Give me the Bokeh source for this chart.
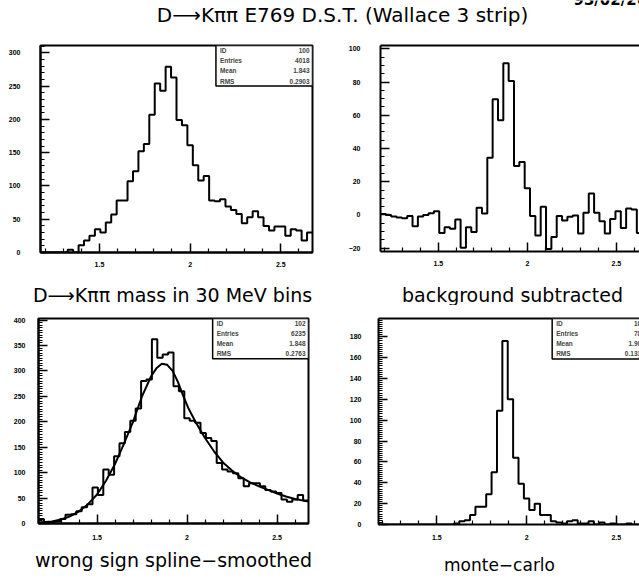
import numpy as np
from bokeh.plotting import figure
from bokeh.layouts import column, row
from bokeh.models import FixedTicker, LinearAxis, Label, BoxAnnotation, Range1d
from bokeh.embed import file_html
from bokeh.resources import INLINE

# K pi pi invariant mass: 50 bins of 30 MeV (GeV)
M_LO = 1.175
BIN_W = 0.03
N_BINS = 50

# D -> K pi pi candidates (ID 100)
counts_kpipi = [0, 0, 0, 0, 0, 4, 0, 11, 18, 25,
                35, 30, 45, 57, 78, 78, 107, 122, 152, 163,
                207, 254, 243, 279, 263, 199, 191, 161, 131, 108,
                115, 78, 77, 80, 69, 64, 58, 44, 53, 62,
                53, 40, 33, 39, 39, 25, 35, 33, 18, 30]

# signal after subtracting the smoothed wrong-sign shape
counts_subtracted = [0.5, 0, -1, -1.5, -2, -0.7, -6.8, -1, 0, 1,
                     2.3, -10.8, -7.4, -8.3, -2.8, -19.8, -7.4, -10.3, 4.3, 0.9,
                     34.4, 69.6, 57, 91.3, 80.7, 29.4, 31.8, 16, -0.7, -12.4,
                     4.9, -20.5, -13.2, -0.7, -3.4, -1.1, -0.3, -11.2, 1.3, 12.9,
                     1.3, -3.8, -11.2, -2.4, 2.3, -7.8, 3.9, 3.3, -10.8, 0]

# wrong-sign combinations (ID 102)
counts_wrong_sign = [9, 3, 3, 4, 9, 17, 18, 24, 32, 38,
                     71, 56, 106, 96, 132, 158, 180, 202, 226, 280,
                     283, 362, 326, 332, 336, 270, 260, 207, 202, 198,
                     178, 168, 162, 119, 106, 102, 99, 89, 73, 79,
                     79, 73, 66, 63, 60, 47, 43, 47, 56, 45]

# spline through the wrong-sign histogram
spline_mass = [1.175, 1.25, 1.30, 1.35, 1.40, 1.45, 1.50, 1.55, 1.60, 1.65,
               1.70, 1.75, 1.80, 1.83, 1.86, 1.89, 1.92, 1.95, 1.98, 2.01,
               2.05, 2.10, 2.15, 2.20, 2.25, 2.30, 2.35, 2.40, 2.45, 2.50,
               2.55, 2.60, 2.675]
spline_counts = [2, 4, 8, 14, 24, 38, 57, 84, 117, 157,
                 200, 250, 289, 305, 314, 312, 300, 278, 250, 225,
                 198, 168, 142, 120, 104, 91, 81, 73, 66, 59,
                 53, 48, 43]

# Monte-Carlo signal (ID 101)
counts_mc = [0, 0, 0, 0, 0, 0, 0, 0, 0, 0,
             0, 0, 0, 0, 1, 3, 4, 9, 17, 17,
             29, 50, 109, 176, 120, 64, 39, 25, 14, 20,
             9, 9, 3, 2, 1, 3, 4, 1, 1, 3,
             0, 2, 0, 1, 0, 0, 1, 0, 0, 0]

stat_names = ["ID", "Entries", "Mean", "RMS"]
stats_kpipi = ["100", "4018", "1.843", "0.2903"]
stats_wrong_sign = ["102", "6235", "1.848", "0.2763"]
stats_mc = ["101", "785", "1.901", "0.1330"]

x_major = [1.5, 2.0, 2.5]
x_major_labels = {1.5: "1.5", 2.0: "2", 2.5: "2.5"}
x_minor = [1.2, 1.3, 1.4, 1.6, 1.7, 1.8, 1.9, 2.1, 2.2, 2.3, 2.4, 2.6]

TXT_FONT = "DejaVu Sans"
TXT_SIZE = "19px"
TICK_FONT = "Liberation Sans"
X_FULL = M_LO + N_BINS * BIN_W


def hist_panel(counts, y_lo, y_hi, x_hi, y_major, y_step, frame_w, frame_h,
               borders, y_standoff, x_standoff, closed):
    bl, br, bt, bb = borders
    p = figure(title=None, x_range=Range1d(M_LO, x_hi), y_range=Range1d(y_lo, y_hi),
               frame_width=frame_w, frame_height=frame_h,
               min_border_left=bl, min_border_right=br,
               min_border_top=bt, min_border_bottom=bb,
               output_backend="svg", toolbar_location=None)
    p.grid.visible = False
    p.background_fill_color = "white"
    p.border_fill_color = "white"

    xb = p.xaxis[0]
    yl = p.yaxis[0]
    y_minor = list(np.arange(y_lo - y_lo % y_step, y_hi, y_step))
    xb.ticker = FixedTicker(ticks=x_major, minor_ticks=x_minor)
    xb.major_label_overrides = x_major_labels
    yl.ticker = FixedTicker(ticks=y_major, minor_ticks=y_minor)
    for ax in (xb, yl):
        ax.axis_line_width = 2
        ax.major_tick_in = 9
        ax.major_tick_out = 0
        ax.minor_tick_in = 4
        ax.minor_tick_out = 0
        ax.major_tick_line_width = 1.5
        ax.minor_tick_line_width = 1.2
        ax.major_label_text_font = TICK_FONT
        ax.major_label_text_font_size = "7px"
        ax.major_label_text_font_style = "bold"
        ax.major_label_text_color = "black"
    yl.major_label_standoff = y_standoff
    xb.major_label_standoff = x_standoff

    if closed:
        p.outline_line_color = "black"
        p.outline_line_width = 2
        p.outline_line_alpha = 1
    else:
        # frame continues past the page edge: only the top edge is drawn
        p.outline_line_color = None
        top = LinearAxis(ticker=FixedTicker(ticks=[], minor_ticks=[]), axis_line_width=2,
                         major_tick_line_color=None, minor_tick_line_color=None,
                         major_label_text_font_size="1px", major_label_text_alpha=0,
                         major_label_standoff=0)
        p.add_layout(top, "above")

    edges = M_LO + BIN_W * np.arange(N_BINS + 1)
    p.step(edges, list(counts) + [counts[-1]], mode="after",
           line_color="black", line_width=2)
    return p


def stats_box(p, values, y_lo, y_hi, px_per_unit):
    left = M_LO + 0.645 * (X_FULL - M_LO)
    bottom = y_hi - 0.196 * (y_hi - y_lo)
    p.add_layout(BoxAnnotation(left=left, right=X_FULL, bottom=bottom, top=y_hi,
                               fill_color="white", fill_alpha=1,
                               line_color="black", line_width=1.5, line_alpha=1))
    h = y_hi - bottom
    for i, (name, val) in enumerate(zip(stat_names, values)):
        y = y_hi - h * (i + 0.5) / 4
        p.add_layout(Label(x=left + 4 / px_per_unit, y=y, text=name,
                           text_align="left", text_baseline="middle",
                           text_font=TICK_FONT, text_font_size="6.5px",
                           text_font_style="bold"))
        p.add_layout(Label(x=X_FULL - 3 / px_per_unit, y=y, text=val,
                           text_align="right", text_baseline="middle",
                           text_font=TICK_FONT, text_font_size="6.5px",
                           text_font_style="bold"))


def text_strip(height, items):
    # a blank strip holding captions; y counts down from the strip top
    s = figure(title=None, width=639, height=height, x_range=Range1d(0, 639),
               y_range=Range1d(height, 0), output_backend="svg",
               toolbar_location=None, min_border=0,
               x_axis_location=None, y_axis_location=None)
    s.outline_line_color = None
    s.grid.visible = False
    for text, x, y, align, size, style in items:
        s.add_layout(Label(x=x, y=y, text=text, text_align=align,
                           text_baseline="alphabetic", text_font=TXT_FONT,
                           text_font_size=size, text_font_style=style,
                           text_color="black"))
    return s


head = text_strip(30, [
    ("D\u27f6K\u03c0\u03c0 E769 D.S.T. (Wallace 3 strip)", 342, 14, "center", "20px", "normal"),
    ("93/02/26", 573, -1, "left", "15px", "bold"),
])

# top left: mass spectrum
p1 = hist_panel(counts_kpipi, 0, 311, X_FULL, [0, 50, 100, 150, 200, 250, 300], 10,
                272, 207, (40, 8, 12, 23), 20, 9, True)
stats_box(p1, stats_kpipi, 0, 311, 272 / 1.5)

# top right: background subtracted
sx2 = 178.0
p2 = hist_panel(counts_subtracted, -22, 102, M_LO + 259 / sx2,
                [-20, 0, 20, 40, 60, 80, 100], 5,
                259, 206, (60, 0, 15, 21), 20, 9, False)

captions_top = text_strip(33, [
    ("D\u27f6K\u03c0\u03c0 mass in 30 MeV bins", 172, 22, "center", TXT_SIZE, "normal"),
    ("background subtracted", 512, 22, "center", TXT_SIZE, "normal"),
])

# bottom left: wrong sign with spline
p3 = hist_panel(counts_wrong_sign, 0, 403, X_FULL,
                [0, 50, 100, 150, 200, 250, 300, 350, 400], 5,
                270, 205, (38, 12, 11, 24), 13, 11, True)
p3.line(spline_mass, spline_counts, line_color="black", line_width=2)
stats_box(p3, stats_wrong_sign, 0, 403, 270 / 1.5)

# bottom right: monte-carlo
sx4 = 179.5
p4 = hist_panel(counts_mc, 0, 197.5, M_LO + 261 / sx4,
                [0, 20, 40, 60, 80, 100, 120, 140, 160, 180], 2,
                261, 206, (58, 0, 13, 21), 17, 10, False)
stats_box(p4, stats_mc, 0, 197.5, sx4)

captions_bottom = text_strip(37, [
    ("wrong sign spline\u2212smoothed", 173, 14, "center", TXT_SIZE, "normal"),
    ("monte\u2212carlo", 499, 19, "center", "17px", "normal"),
])

layout = column(head, row(p1, p2), captions_top, row(p3, p4), captions_bottom)
open("out.html", "w").write(file_html(layout, INLINE))
